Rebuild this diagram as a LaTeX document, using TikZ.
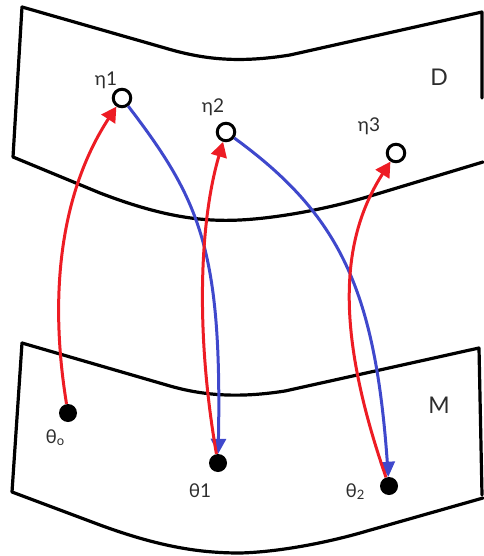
\documentclass[tikz,border=0pt]{standalone}
\usepackage{fontspec}
\newfontfamily\labfont{Lato}
\usetikzlibrary{arrows.meta}
\definecolor{pred}{RGB}{237,28,36}
\definecolor{pblue}{RGB}{63,72,204}
\definecolor{ink}{RGB}{45,45,45}
\begin{document}
\begin{tikzpicture}[x=1pt,y=-1pt,
  sheet/.style={line width=3.2pt, line join=round, line cap=round},
  hollow/.style={circle, draw, line width=3pt, fill=white, minimum size=17.5pt, inner sep=0pt},
  dotnode/.style={circle, fill=black, minimum size=18pt, inner sep=0pt},
  lab/.style={text=ink, inner sep=0pt, font=\labfont\fontsize{19}{19}\selectfont},
  big/.style={text=ink, inner sep=0pt, font=\labfont\fontsize{23}{23}\selectfont},
  redarr/.style={draw=pred, line width=3pt, -{Triangle[length=15pt,width=16pt]}},
  bluearr/.style={draw=pblue, line width=3pt, -{Triangle[length=15pt,width=15pt]}}]
\useasboundingbox (0,0) rectangle (483,556);
% sheet D
\draw[sheet] (22,7) -- (165,48) .. controls (205,60) and (240,63) .. (290,55) -- (482,12) -- (482,98);
\draw[sheet] (22,7) -- (13,157) -- (100,193) .. controls (160,216) and (200,222) .. (240,220) .. controls (280,218) and (330,208) .. (367,197) -- (483,162);
% sheet M
\draw[sheet] (22,343) -- (170,386) .. controls (205,396) and (240,398) .. (285,391) -- (479,348) -- (482,495);
\draw[sheet] (22,343) -- (12,492) -- (100,525) .. controls (160,547) and (200,553) .. (240,553) .. controls (280,552) and (330,542) .. (367,531) -- (483,498);
% nodes
\node[hollow] (e1) at (122,98) {};
\node[hollow] (e2) at (226,132) {};
\node[hollow] (e3) at (396,153) {};
\node[dotnode] (t0) at (68,413) {};
\node[dotnode] (t1) at (218,463) {};
\node[dotnode] (t2) at (389,486) {};
% labels
\node[lab] (le1) at (106,80) {η1};
\node[lab] (le2) at (213,107) {η2};
\node[lab] (le3) at (369,126) {η3};
\node[lab] (lt0) at (55,438) {θ\raisebox{-2pt}{\fontsize{13}{13}\selectfont o}};
\node[lab] (lt1) at (200,491) {θ1};
\node[lab] (lt2) at (355,492) {θ\raisebox{-2pt}{\fontsize{13}{13}\selectfont 2}};
\node[big] (lD) at (439,77) {D};
\node[big] (lM) at (439,405) {M};
% connectors
\draw[bluearr] (e1) .. controls (200,200) and (222,250) .. (t1);
\draw[bluearr] (e2) .. controls (340,215) and (375,290) .. (t2);
\draw[redarr] (t0) .. controls (48,290) and (62,190) .. (e1);
\draw[redarr] (t1) .. controls (195,330) and (200,220) .. (e2);
\draw[redarr] (t2) .. controls (335,330) and (340,240) .. (e3);
\end{tikzpicture}
\end{document}
